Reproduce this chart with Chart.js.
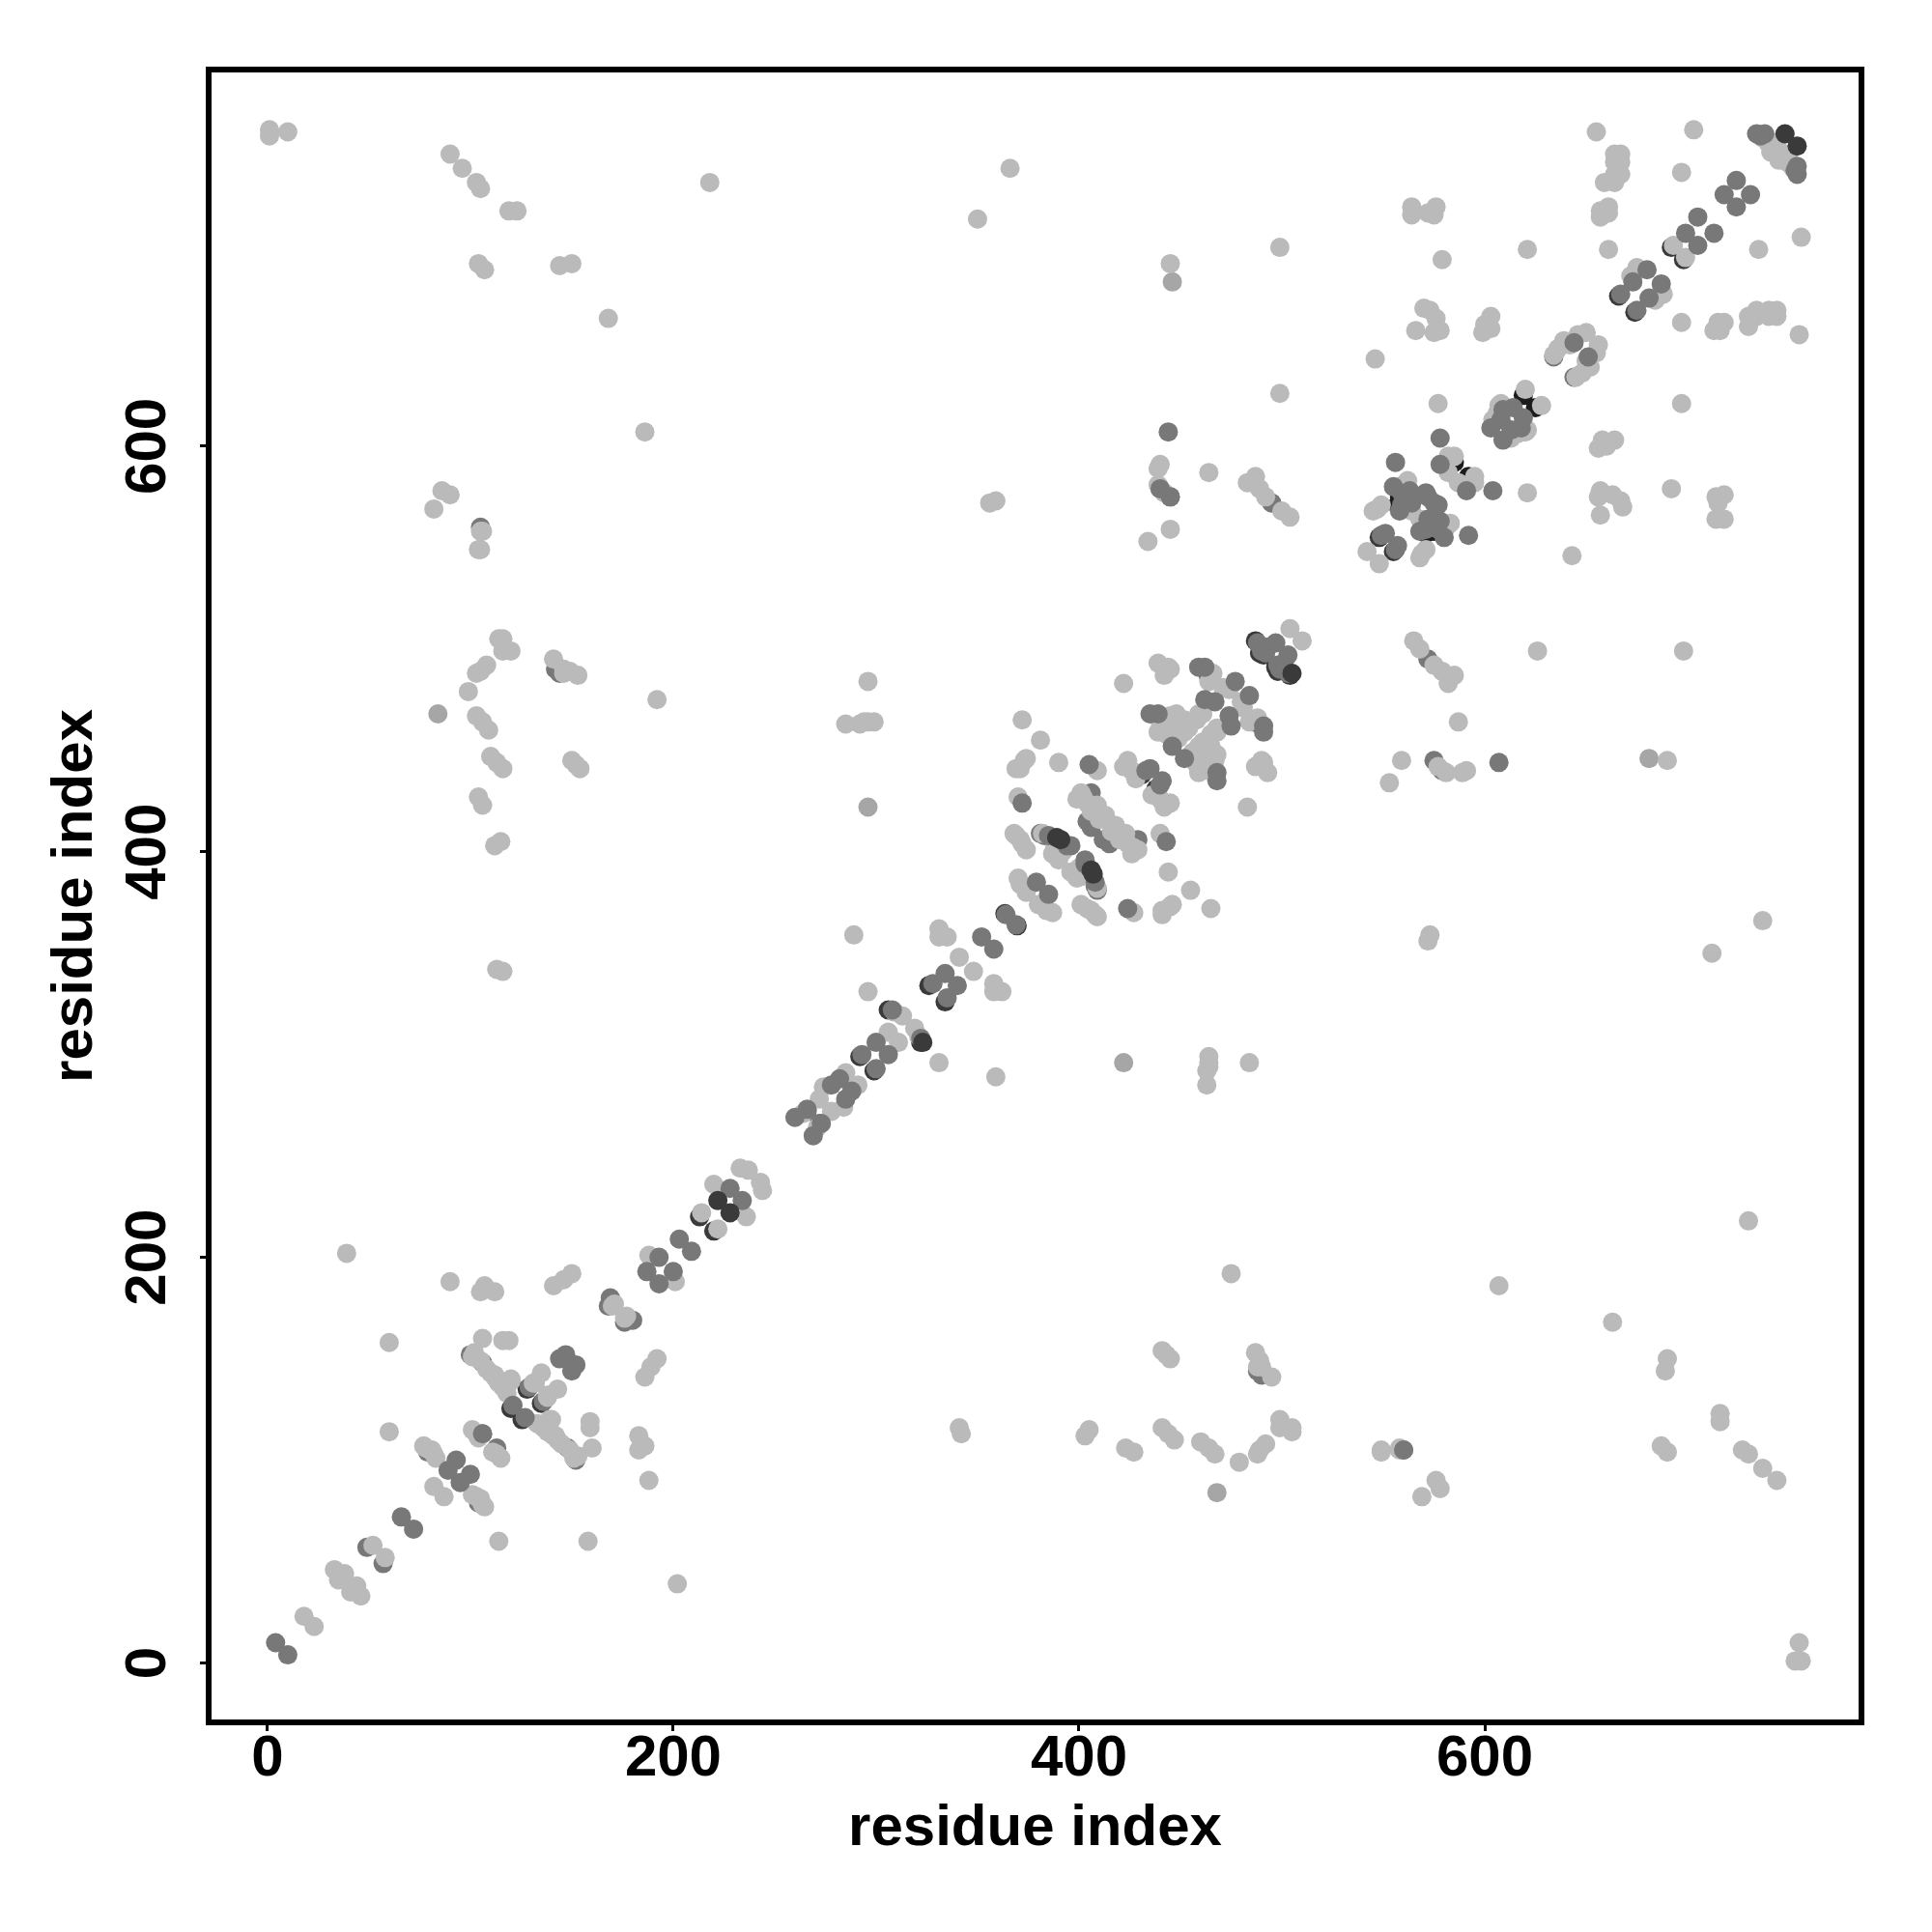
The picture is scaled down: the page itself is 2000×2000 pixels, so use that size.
<!DOCTYPE html>
<html>
<head>
<meta charset="utf-8">
<title>residue contact map</title>
<script src="https://cdn.jsdelivr.net/npm/chart.js@4"></script>
<style>
  html, body { margin: 0; background: #fff; }
  canvas { display: block; }
</style>
</head>
<body>
<canvas id="chart-contacts" width="2000" height="2000"></canvas>
<script>
// ── Axis labels and ticks ────────────────────────────────
const AXIS_TITLE = "residue index";
const TICK_VALUES = [0, 200, 400, 600];

// ── Contacts as [i, j] with i < j ───
// The map is symmetric, every pair is also drawn as [j, i].
const blackUnder = [[585,592],[619,625],[558,575],[557,571]];

const darkUnder = [[120,125.5],[128,135],[213,220],[306,322],[292,299],[363.5,369.5],[326,334],
  [548,555],[464,486],[431,438],[489,498],[491,497],[692,698],[666,674],[487,504]];

const midUnder = [[49,57],[105,560],[142,490],[144,488],[169,180],[168,176],[100,152],[106,148],[113,140],
  [266,272],[634,644],[572,575],[381,409],[383,408],[445,575],[440,579],[495,572],[406,429],[406,412],[404,415],
  [559,577],[560,575],[559,571],[79,104],[106,113],[129,136]];

const softContacts = [[296,422],[446,681],[84,468]];

const lightContacts = [
  [1,756],[1,753],[10,755],[90,744],[96,737],[103,730],[105,727],[119,716],[123,716],[218,730],
  [104,690],[107,687],[144,689],[150,690],[168,663],[186,607],[86,578],[90,576],[82,569],[105,558],
  [106,558],[105,549],[104,549],[114,505],[116,505],[116,499],[120,499],[108,492],[105,489],[103,488],[99,479],
  [103,467],[106,464],[109,460],[110,447],[113,444],[116,441],[104,427],[106,423],[115,405],[112,403],
  [113,342],[116,341],[141,495],[146,490],[146,488],[149,489],[153,487],[150,445],[152,443],[154,441],[192,475],
  [296,484],[285,463],[292,463],[296,464],[299,464],[294,464],[289,359],[296,331],[366,737],[350,712],
  [445,690],[499,698],[499,626],[546,643],[440,591],[439,589],[464,587],[483,582],[487,585],[489,579],
  [492,575],[500,568],[504,565],[439,581],[442,577],[445,559],[434,553],[356,572],[359,573],[564,718],
  [564,714],[572,715],[576,718],[575,714],[579,692],[655,755],[703,756],[697,735],[664,744],[667,744],
  [664,740],[667,740],[659,730],[664,734],[667,734],[664,730],[657,716],[661,718],[657,713],[661,715],
  [661,697],[621,697],[570,668],[573,667],[576,663],[578,657],[575,656],[566,657],[603,664],[600,660],
  [603,658],[599,656],[577,621],[18,23],[33,46],[38,44],[35,41],[52,58],[82,87],[78,106],[80,105],
  [82,103],[101,115],[103,113],[104,111],[83,101],[81,105],[77,107],[90,188],[39,202],[60,114],[60,158],
  [107,186],[105,183],[112,183],[150,192],[146,189],[141,186],[171,177],[170,176],[188,201],[106,160],
  [116,159],[119,159],[102,153],[101,151],[105,149],[108,145],[110,143],[116,136],[120,139],[114,138],
  [112,142],[118,137],[120,140],[135,143],[132,138],[131,138],[118,133],[112,141],[220,236],[214,222],[233,244],
  [237,243],[264,271],[272,278],[274,284],[285,291],[306,311],[309,321],[313,319],[331,362],[331,358],
  [335,358],[341,348],[370,387],[373,383],[371,384],[374,380],[368,409],[371,406],[374,401],[369,408],
  [372,404],[382,409],[387,399],[390,396],[388,402],[392,400],[370,427],[372,465],[381,455],[390,444],
  [371,441],[373,445],[369,441],[374,446],[409,440],[424,445],[422,442],[428,436],[426,440],[422,483],
  [439,493],[444,491],[442,487],[445,490],[399,426],[401,429],[404,424],[409,423],[406,420],[413,418],
  [410,416],[402,427],[440,464],[439,459],[443,458],[448,468],[449,456],[452,459],[454,461],[458,465],
  [461,468],[459,468],[444,465],[452,465],[455,463],[447,461],[450,459],[445,467],[466,488],[464,484],
  [474,480],[471,481],[504,510],[542,548],[549,571],[545,568],[547,569],[564,568],[560,581],[562,583],
  [582,595],[585,595],[582,587],[620,628],[608,621],[604,613],[607,620],[606,616],[634,645],[639,652],
  [650,656],[636,648],[642,650],[646,655],[675,688],[676,687],[672,684],[693,699],[740,749],[741,745],
  [744,748],[741,750],[743,746],[737,752]
];

const midOver = [
  [4,10],[66,72],[93,100],[89,95],[147,152],[144,150],[121,127],[187,193],[193,200],
  [203,209],[228,234],[260,269],[266,273],[278,285],[282,288],[293,300],[300,306],[308,322],[328,335],[334,340],
  [352,358],[364,369],[379,385],[385,408],[394,403],[396,403],[372,424],[405,443],[433,440],[435,441],[446,452],
  [439,468],[435,468],[462,475],[467,474],[462,491],[459,491],[477,484],
  [444,607],[497,503],[493,501],[488,503],[490,499],[492,498],[578,604],[556,592],
  [549,556],[551,557],[555,580],[558,568],[563,578],[571,577],[564,572],[578,591],
  [609,618],[614,619],[603,609],[608,613],[644,651],[667,675],[680,687],[673,681],[705,713],[699,705],[724,731],
  [718,724],[734,754],[738,754],[736,753]
];

const darkOver = [[222,228],[389,407],[391,406],[748,754]];

// Discs that sit on top only on one side of the diagonal
const midOneSided = [[560,105],[445,575],[440,579],[106,113]];
const darkOneSided = [[323,306],[505,488]];

// ── Colours for the shades of grey ───────────────────────
const SHADE_BLACK = "#1c1c1c";
const SHADE_DARK = "#3a3a3a";
const SHADE_MID = "#787878";
const SHADE_SOFT = "#a6a6a6";
const SHADE_LIGHT = "#bababa";

const toPoints = pairs => pairs.map(p => ({ x: p[0], y: p[1] }));
const mirrored = pairs => toPoints(pairs).concat(toPoints(pairs.map(p => [p[1], p[0]])));

function contactSet(label, points, color) {
  return {
    label: label,
    data: points,
    backgroundColor: color,
    borderWidth: 0,
    pointRadius: 10,
    pointHoverRadius: 10
  };
}

// ── Frame round the plot and the rotated y tick labels ───
const framePlugin = {
  id: "frame",
  afterDraw: (chart) => {
    const { ctx, chartArea, scales } = chart;
    ctx.save();
    ctx.lineWidth = 6;
    ctx.strokeStyle = "#000";
    ctx.lineJoin = "miter";
    ctx.strokeRect(chartArea.left, chartArea.top, chartArea.right - chartArea.left, chartArea.bottom - chartArea.top);

    // Chart.js will not rotate y tick labels by itself
    ctx.fillStyle = "#000";
    ctx.font = "bold 60px 'Liberation Sans'";
    ctx.textAlign = "center";
    ctx.textBaseline = "alphabetic";
    TICK_VALUES.forEach(v => {
      ctx.save();
      ctx.translate(171, scales.y.getPixelForValue(v));
      ctx.rotate(-Math.PI / 2);
      ctx.fillText(String(v), 0, 0);
      ctx.restore();
    });
    ctx.restore();
  }
};

const axisFont = { family: "'Liberation Sans'", weight: "bold", size: 60 };
const setTicks = scale => { scale.ticks = TICK_VALUES.map(v => ({ value: v })); };

// Chart.js paints the first dataset last, so the top layer goes first
new Chart(document.getElementById("chart-contacts"), {
  type: "scatter",
  data: {
    datasets: [
      contactSet("dark one sided", toPoints(darkOneSided), SHADE_DARK),
      contactSet("mid one sided", toPoints(midOneSided), SHADE_MID),
      contactSet("dark over", mirrored(darkOver), SHADE_DARK),
      contactSet("mid over", mirrored(midOver), SHADE_MID),
      contactSet("light", mirrored(lightContacts), SHADE_LIGHT),
      contactSet("soft", mirrored(softContacts), SHADE_SOFT),
      contactSet("mid under", mirrored(midUnder), SHADE_MID),
      contactSet("dark under", mirrored(darkUnder), SHADE_DARK),
      contactSet("black under", mirrored(blackUnder), SHADE_BLACK)
    ]
  },
  plugins: [framePlugin],
  options: {
    responsive: false,
    animation: false,
    devicePixelRatio: 1,
    layout: { padding: { left: 0, right: 73, top: 72, bottom: 0 } },
    plugins: { legend: { display: false }, tooltip: { enabled: false } },
    scales: {
      x: {
        type: "linear",
        min: -29,
        max: 785.7,
        afterBuildTicks: setTicks,
        afterFit: scale => { scale.height = 217; },
        border: { display: false },
        grid: { drawOnChartArea: false, drawTicks: true, tickLength: 9, tickWidth: 3, tickColor: "#000" },
        ticks: { color: "#000", font: axisFont, padding: -7, maxRotation: 0, autoSkip: false },
        title: { display: true, text: AXIS_TITLE, color: "#000", font: axisFont, padding: { top: 0, bottom: 71 } }
      },
      y: {
        type: "linear",
        min: -29.3,
        max: 785.7,
        afterBuildTicks: setTicks,
        afterFit: scale => { scale.width = 216; },
        border: { display: false },
        grid: { drawOnChartArea: false, drawTicks: true, tickLength: 9, tickWidth: 3, tickColor: "#000" },
        ticks: { display: false },
        title: { display: true, text: AXIS_TITLE, color: "#000", font: axisFont, padding: { top: 42, bottom: 0 } }
      }
    }
  }
});
</script>
</body>
</html>
